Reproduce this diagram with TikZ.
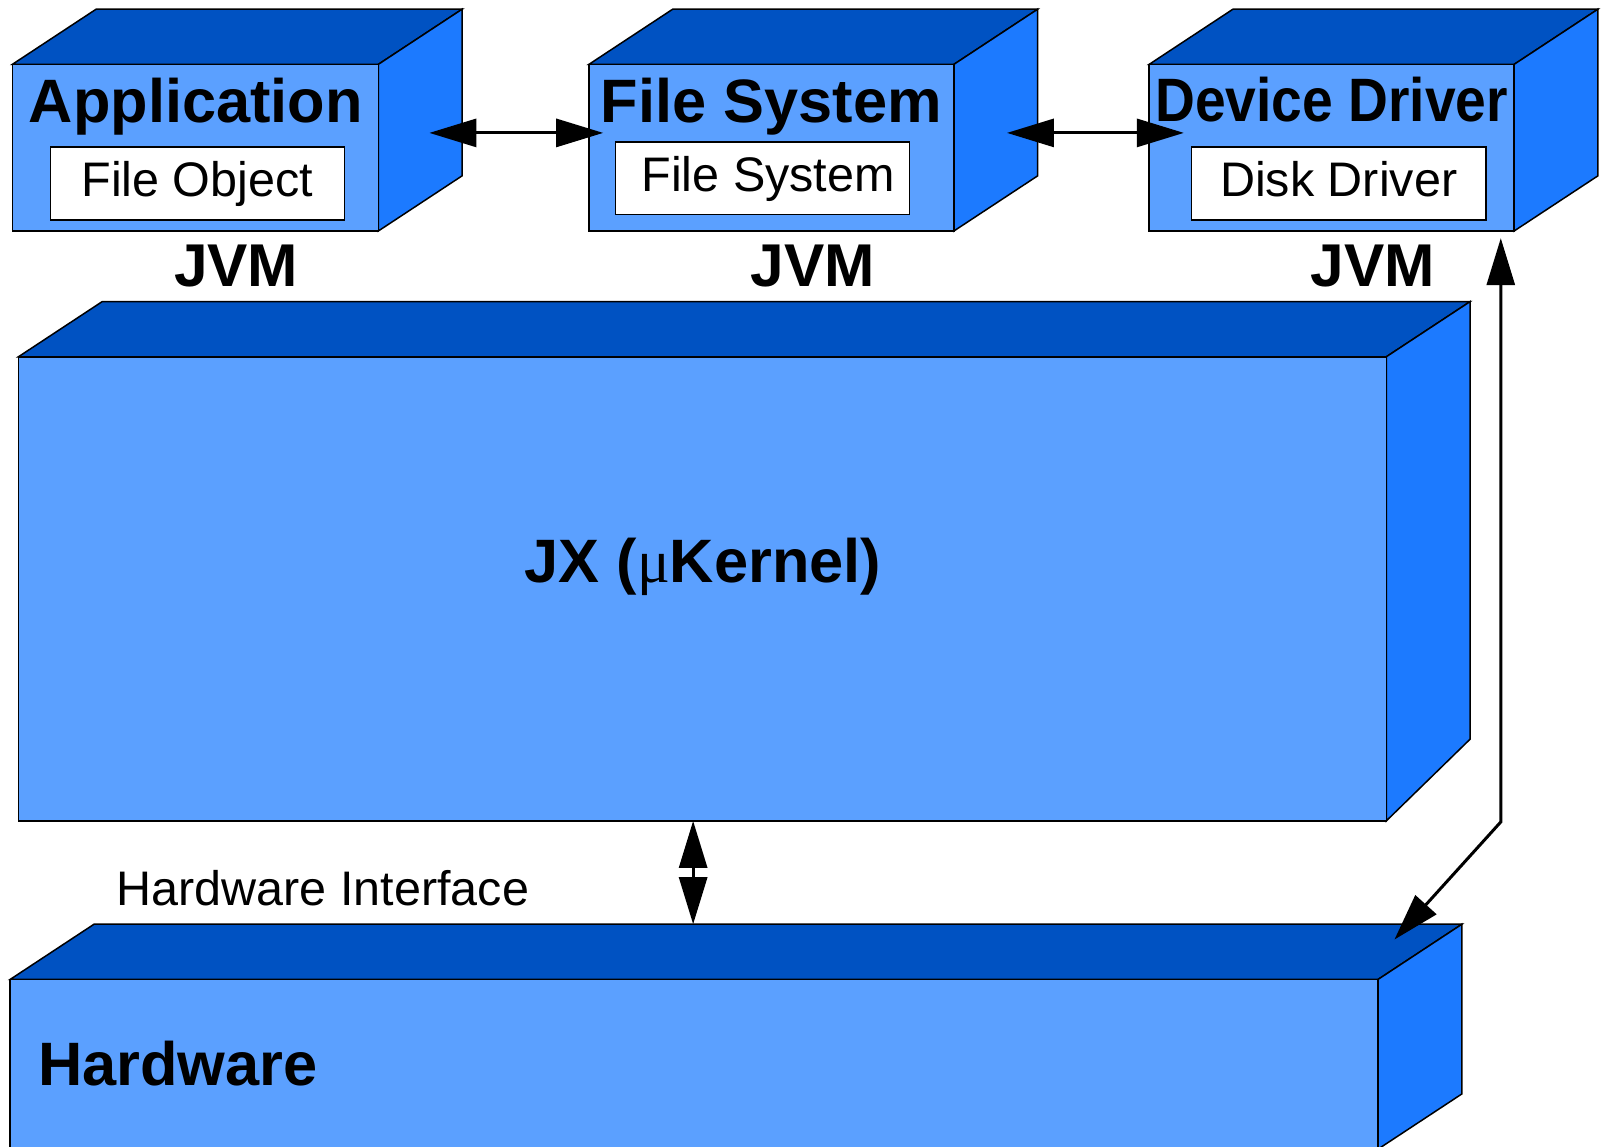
\documentclass[tikz,border=0pt]{standalone}
\usepackage{fontspec}
\usepackage{graphicx}
\setmainfont{Liberation Sans}
\newfontfamily\mufont{Liberation Serif}
\usetikzlibrary{arrows.meta}
\definecolor{frontblue}{HTML}{5BA0FF}
\definecolor{topblue}{HTML}{0052C2}
\definecolor{sideblue}{HTML}{1C7AFF}
\newcommand{\bigbf}{\fontsize{61.3}{61.3}\selectfont\bfseries}
\newcommand{\midrm}{\fontsize{48.5}{48.5}\selectfont}
% [rise of back bottom edge]{x1}{y1}{x2}{y2} of the front face
\newcommand{\slab}[5][54]{%
  \filldraw[topface] (#2,#3) -- ++(82,-54) -- (#4+82,#3-54) -- (#4,#3) -- cycle;
  \filldraw[sideface] (#4,#3) -- (#4+82,#3-54) -- (#4+82,#5-#1) -- (#4,#5) -- cycle;
  \filldraw[frontface] (#2,#3) rectangle (#4,#5);
}
\tikzset{
  /tikz/.cd,
  frontface/.style={fill=frontblue,draw=black,line width=1.5pt},
  topface/.style={fill=topblue,draw=black,line width=1.5pt},
  sideface/.style={fill=sideblue,draw=black,line width=1.5pt},
  component/.style={fill=white,draw=black,line width=1.5pt,minimum width=294pt,minimum height=72.6pt,
                    inner sep=0pt,text height=35pt,text depth=9pt,font=\midrm}
}

\begin{document}
\begin{tikzpicture}[x=1.0223pt,y=-1.0223pt,
    title/.style={font=\bigbf,inner sep=0pt,anchor=base},
    link/.style={line width=3pt,{Triangle[length=47pt,width=28pt]}-{Triangle[length=47pt,width=28pt]}}]
  \useasboundingbox (0,0) rectangle (1568,1121);
  \clip (0,0) rectangle (1568,1121);

  \slab{12}{63}{370}{226}
  \slab{576}{63}{933}{226}
  \slab{1124}{63}{1481}{226}
  \slab[80]{18}{349}{1356}{803}
  \slab{10}{958}{1348}{1124}

  \node[component] (fobj) at (193,179.5) {File Object\hspace{9pt}};
  \node[component] (fsys) at (746,174.5) {\hspace{11pt}File System};
  \node[component] (ddrv) at (1309.5,179.5) {Disk Driver\hspace{4pt}};

  \coordinate (app-r) at (420,130);
  \coordinate (fs-l) at (590,130);
  \coordinate (fs-r) at (985,130);
  \coordinate (dd-l) at (1158,130);
  \coordinate (jx-b) at (678,803);
  \coordinate (hw-t) at (678,904);
  \coordinate (dd-b) at (1468,233);
  \coordinate (bend) at (1468,804);
  \coordinate (hw-r) at (1364,919);

  \draw[link] (app-r) -- (fs-l);
  \draw[link] (fs-r) -- (dd-l);
  \draw[link] (jx-b) -- (hw-t);
  \draw[link] (dd-b) -- (bend) -- (hw-r);

  \node[title] (app) at (191.5,120) {Application};
  \node[title] (fs) at (754.5,119.5) {File System};
  \node[title] (dd) at (1302.5,119) {\scalebox{0.9}[1]{Device Driver}};

  \node[title,font=\fontsize{60.4}{60.4}\selectfont\bfseries] (jvm1) at (231,280.5) {JVM};
  \node[title,font=\fontsize{60.4}{60.4}\selectfont\bfseries] (jvm2) at (795,280.5) {JVM};
  \node[title,font=\fontsize{60.4}{60.4}\selectfont\bfseries] (jvm3) at (1343,280.5) {JVM};

  \node[title] (jx) at (687.5,570) {JX ({\mdseries\mufont μ}Kernel)};
  \node[title,anchor=base west,font=\midrm] (hwif) at (114,886) {Hardware Interface};
  \node[title,anchor=base west] (hw) at (37,1062) {Hardware};
\end{tikzpicture}
\end{document}
